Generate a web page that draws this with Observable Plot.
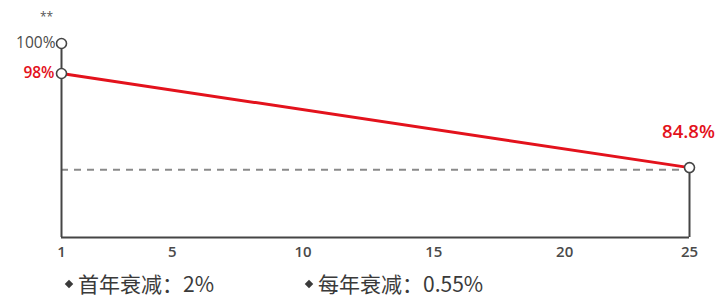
<!DOCTYPE html>
<html><head><meta charset="utf-8">
<script src="https://cdn.jsdelivr.net/npm/d3@7"></script>
<script src="https://cdn.jsdelivr.net/npm/@observablehq/plot@0.6"></script>
<style>
body{margin:0;background:#fff;font-family:"Noto Sans CJK SC","Noto Sans",sans-serif;}
#wrap{position:relative;width:724px;height:300px;overflow:hidden;}
.lg{position:absolute;top:272px;font-size:21px;line-height:22px;color:#3a3a3a;white-space:nowrap;}
.dm{position:absolute;top:281px;width:6px;height:6px;background:#3a3a3a;transform:rotate(45deg);}
</style></head>
<body><div id="wrap"><div id="chart"></div></div>
<script>
const years = [1, 25];
const values = [98, 84.8];
const topValue = 100;
const dashValue = 84.5;
const xTicks = [1, 5, 10, 15, 20, 25];
const legendItems = ["首年衰减：2%", "每年衰减：0.55%"];
const labels = ["100%", "98%", "84.8%"];

const line = years.map((y, i) => ({year: y, v: values[i]}));
const red = "#e3121c", dark = "#454545";
// schematic (non-linear) vertical axis: break between 98% and 100%
const warp = d3.scaleLinear().domain([75, 98, 100]).range([0, 164, 194]);
const edgeTicks = xTicks.filter(t => t === 1 || t === 25);
const midTicks = xTicks.filter(t => t !== 1 && t !== 25);
const tickStyle = {fill: "#4a4a4a", fontSize: 15, fontFamily: "Open Sans", fontWeight: 600};

const chart = Plot.plot({
  width: 724, height: 270,
  marginLeft: 61, marginRight: 35, marginTop: 0, marginBottom: 0,
  x: {domain: [1, 25], axis: null},
  y: {transform: warp, domain: [0, 194], range: [237, 43], axis: null},
  marks: [
    Plot.ruleY([dashValue], {x1: 1, x2: 25, stroke: "#8a8a8a", strokeWidth: 1.8, strokeDasharray: "7,6"}),
    Plot.ruleX([1], {y1: 75, y2: topValue, stroke: dark, strokeWidth: 2}),
    Plot.ruleX([25], {y1: 75, y2: values[1], stroke: dark, strokeWidth: 2}),
    Plot.ruleY([75], {x1: 1, x2: 25, stroke: dark, strokeWidth: 2}),
    Plot.line(line, {x: "year", y: "v", stroke: red, strokeWidth: 3}),
    Plot.dot([{year: 1, v: topValue}, ...line], {x: "year", y: "v", r: 5, fill: "white", stroke: dark, strokeWidth: 1.6}),
    Plot.text(edgeTicks, {x: d => d, y: 75, dy: 15, text: d => String(d), ...tickStyle}),
    Plot.text(midTicks, {x: d => d, y: 75, dy: 15, dx: 6, text: d => String(d), ...tickStyle}),
    Plot.text([{year: 1, v: topValue, t: labels[0]}], {x: "year", y: "v", text: "t", textAnchor: "end", dx: -6, fill: "#4a4a4a", fontSize: 15.5, fontFamily: "Open Sans"}),
    Plot.text([{year: 1, v: values[0], t: labels[1]}], {x: "year", y: "v", text: "t", textAnchor: "end", dx: -7, fill: red, fontSize: 15.5, fontWeight: 600, fontFamily: "Open Sans"}),
    Plot.text([{year: 25, v: values[1], t: labels[2]}], {x: "year", y: "v", text: "t", dy: -36, dx: -1, fill: red, fontSize: 18.5, fontWeight: 600, fontFamily: "Open Sans"}),
    Plot.text([{year: 1, v: topValue, t: "**"}], {x: "year", y: "v", text: "t", dy: -26, dx: -15, fill: "#555", fontSize: 12, fontFamily: "Open Sans"})
  ]
});
document.getElementById("chart").appendChild(chart);
const wrap = document.getElementById("wrap");
const legendX = [78, 318];
legendItems.forEach((t, i) => {
  const d = document.createElement("div");
  d.className = "dm"; d.style.left = (legendX[i] - 12) + "px";
  wrap.appendChild(d);
  const s = document.createElement("div");
  s.className = "lg"; s.style.left = legendX[i] + "px"; s.textContent = t;
  wrap.appendChild(s);
});
</script></body></html>
